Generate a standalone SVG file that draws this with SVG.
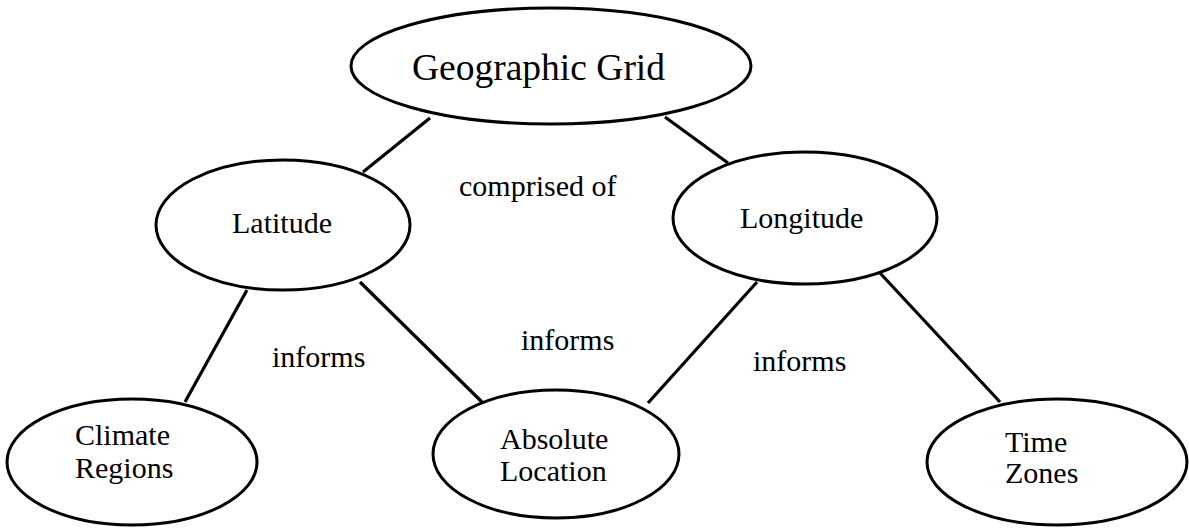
<svg xmlns="http://www.w3.org/2000/svg" width="1189" height="530" viewBox="0 0 1189 530">
<style>
.n{fill:#fff;stroke:#000;stroke-width:3}
.c line{stroke:#000;stroke-width:3.2}
text{font-family:"Liberation Serif","Times New Roman",serif;fill:#000;font-size:30px}
.big{font-size:37.5px}
</style>
<rect width="1189" height="530" fill="#fff"/>
<g class="c" id="connectors">
<line x1="430" y1="118" x2="363" y2="172"/>
<line x1="665" y1="117" x2="728" y2="163"/>
<line x1="247" y1="290" x2="185" y2="402"/>
<line x1="360" y1="282" x2="483" y2="403"/>
<line x1="757" y1="282" x2="648" y2="403"/>
<line x1="880" y1="273" x2="1000" y2="402"/>
</g>
<g id="labels">
<text x="459" y="196">comprised of</text>
<text x="272" y="367">informs</text>
<text x="521" y="350">informs</text>
<text x="753" y="371">informs</text>
</g>
<g id="geographic-grid">
<ellipse class="n" cx="551" cy="66" rx="200" ry="58"/>
<text class="big" x="412" y="80">Geographic Grid</text>
</g>
<g id="latitude">
<ellipse class="n" cx="283" cy="225" rx="127" ry="65"/>
<text x="232" y="233">Latitude</text>
</g>
<g id="longitude">
<ellipse class="n" cx="805" cy="218" rx="132" ry="66"/>
<text x="740" y="228">Longitude</text>
</g>
<g id="climate-regions">
<ellipse class="n" cx="132" cy="462" rx="125" ry="63"/>
<text x="75" y="445">Climate</text>
<text x="75" y="478">Regions</text>
</g>
<g id="absolute-location">
<ellipse class="n" cx="556" cy="454" rx="123" ry="64"/>
<text x="500" y="449">Absolute</text>
<text x="500" y="481">Location</text>
</g>
<g id="time-zones">
<ellipse class="n" cx="1057" cy="462" rx="130" ry="63"/>
<text x="1005" y="452">Time</text>
<text x="1005" y="483">Zones</text>
</g>
</svg>
